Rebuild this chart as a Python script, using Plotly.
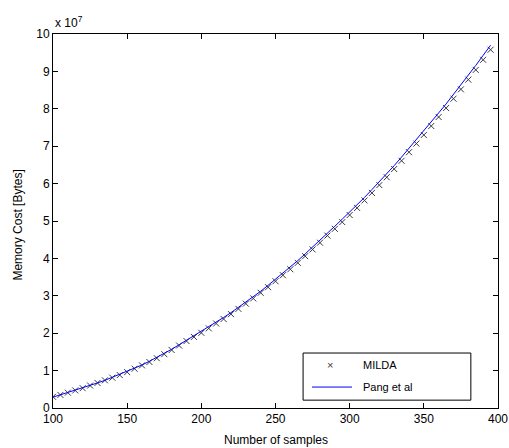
import plotly.graph_objects as go

# Number of samples (x) and memory cost in units of 1e7 bytes
samples = list(range(100, 400, 5))

milda_cost = [
    0.30, 0.35, 0.41, 0.47, 0.53, 0.60, 0.67, 0.74, 0.81, 0.88,
    0.96, 1.05, 1.14, 1.23, 1.33, 1.44, 1.55, 1.67, 1.79, 1.90,
    2.01, 2.13, 2.26, 2.38, 2.51, 2.65, 2.79, 2.93, 3.08, 3.23,
    3.39, 3.55, 3.71, 3.88, 4.06, 4.24, 4.42, 4.61, 4.79, 4.97,
    5.16, 5.35, 5.55, 5.75, 5.96, 6.17, 6.39, 6.61, 6.84, 7.07,
    7.30, 7.54, 7.78, 8.02, 8.27, 8.52, 8.78, 9.04, 9.31, 9.58,
]

pang_cost = [
    0.29, 0.35, 0.41, 0.47, 0.53, 0.60, 0.67, 0.74, 0.82, 0.89,
    0.97, 1.06, 1.15, 1.25, 1.35, 1.46, 1.57, 1.69, 1.81, 1.93,
    2.04, 2.16, 2.29, 2.42, 2.55, 2.69, 2.83, 2.97, 3.12, 3.28,
    3.44, 3.60, 3.77, 3.94, 4.12, 4.30, 4.49, 4.68, 4.86, 5.05,
    5.24, 5.43, 5.63, 5.84, 6.05, 6.26, 6.48, 6.71, 6.94, 7.17,
    7.40, 7.64, 7.89, 8.13, 8.38, 8.64, 8.90, 9.16, 9.43, 9.70,
]

series_names = ["MILDA", "Pang et al"]
x_ticks = [100, 150, 200, 250, 300, 350, 400]
y_ticks = list(range(0, 11))

FONT = "Liberation Sans, Arial, sans-serif"
MARKER_COLOR = "#3a3a3a"
LINE_COLOR = "#0000ff"

fig = go.Figure()
fig.add_trace(go.Scatter(
    x=samples, y=milda_cost, mode="markers", name=series_names[0],
    marker=dict(symbol="x-thin", size=6, line=dict(color=MARKER_COLOR, width=1)),
    showlegend=False,
))
fig.add_trace(go.Scatter(
    x=samples, y=pang_cost, mode="lines", name=series_names[1],
    line=dict(color=LINE_COLOR, width=1),
    showlegend=False,
))

axis_common = dict(
    showline=True, linecolor="black", linewidth=1, mirror="ticks",
    ticks="inside", ticklen=5, tickcolor="black", showgrid=False,
    zeroline=False, automargin=False,
    tickfont=dict(family=FONT, size=12, color="black"),
)

fig.update_xaxes(range=[100, 400], tickvals=x_ticks, **axis_common)
fig.update_yaxes(range=[0, 10], tickvals=y_ticks, **axis_common)

# Axis titles
fig.add_annotation(
    text="Number of samples", xref="paper", yref="paper", x=0.5, y=-0.086,
    xanchor="center", yanchor="middle", showarrow=False,
    font=dict(family=FONT, size=12, color="black"),
)
fig.add_annotation(
    text="Memory Cost [Bytes]", xref="paper", yref="paper", x=-0.079, y=0.49,
    xanchor="center", yanchor="middle", showarrow=False, textangle=-90,
    font=dict(family=FONT, size=12, color="black"),
)

# Exponent label above the y axis
fig.add_annotation(
    text="x 10<sup>7</sup>", xref="paper", yref="paper", x=0.0, y=1.0,
    xanchor="left", yanchor="bottom", showarrow=False, yshift=2,
    font=dict(family=FONT, size=12, color="black"),
)

# Legend box drawn in the lower-right corner of the axes
box_x0, box_x1, box_y0, box_y1 = 0.562, 0.939, 0.021, 0.147
fig.add_shape(type="rect", xref="paper", yref="paper",
              x0=box_x0, x1=box_x1, y0=box_y0, y1=box_y1,
              line=dict(color="black", width=1), fillcolor="white", layer="above")
row_y = [0.115, 0.056]
fig.add_annotation(text="\u00d7", xref="paper", yref="paper", x=0.6225, y=row_y[0],
                   showarrow=False, xanchor="center", yanchor="middle",
                   font=dict(family=FONT, size=11, color=MARKER_COLOR))
fig.add_shape(type="line", xref="paper", yref="paper",
              x0=0.582, x1=0.672, y0=row_y[1], y1=row_y[1],
              line=dict(color=LINE_COLOR, width=1), layer="above")
for name, yy in zip(series_names, row_y):
    fig.add_annotation(text=name, xref="paper", yref="paper", x=0.692, y=yy,
                       showarrow=False, xanchor="left", yanchor="middle",
                       font=dict(family=FONT, size=11, color="black"))

fig.update_layout(
    width=509, height=448,
    margin=dict(l=53, r=11, t=34, b=40),
    paper_bgcolor="white", plot_bgcolor="white",
    showlegend=False,
)

fig.write_html("out.html")
